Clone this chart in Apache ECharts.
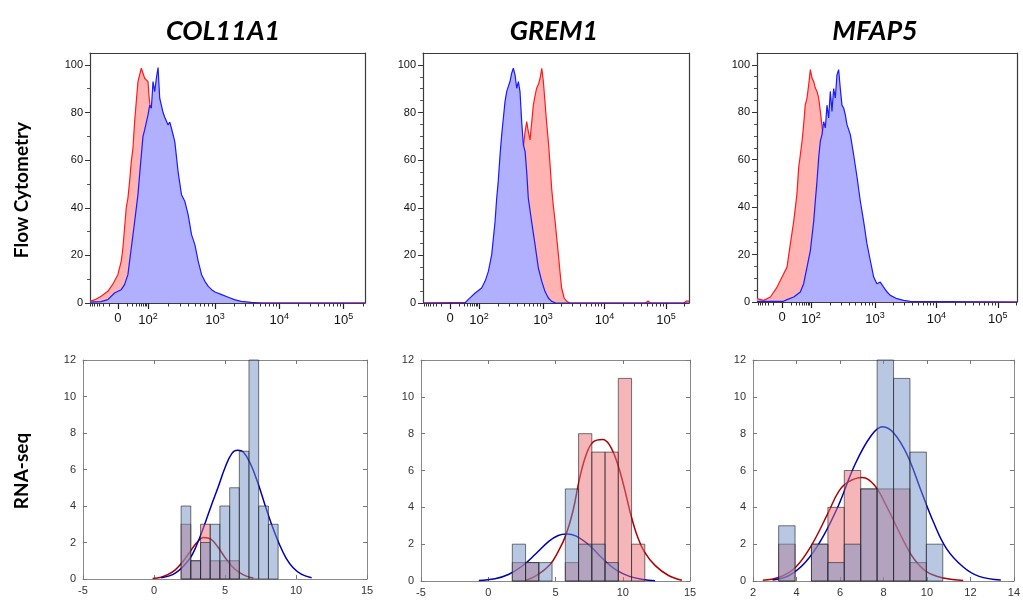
<!DOCTYPE html>
<html>
<head>
<meta charset="utf-8">
<script src="https://cdn.jsdelivr.net/npm/echarts@6/dist/echarts.min.js"></script>
<style>html,body{margin:0;padding:0;background:#fff}#c{width:1023px;height:601px}</style>
</head>
<body>
<div id="c"></div>
<script>
// ---------- Text ----------
const geneTitles = ['COL11A1', 'GREM1', 'MFAP5'];
const rowLabels = ['Flow Cytometry', 'RNA-seq'];

// ---------- Flow cytometry axis (display units) ----------
const flowTickPos = [1.55, 2, 3, 3.96, 4.92];
const flowTickLabels = ['0', '10{s|2}', '10{s|3}', '10{s|4}', '10{s|5}'];
const flowYTicks = [0, 20, 40, 60, 80, 100];

// ---------- Flow cytometry curves ----------
const col_red_x = [1.134, 1.20, 1.30, 1.40, 1.47, 1.55, 1.60, 1.625, 1.65, 1.675, 1.70, 1.725, 1.75, 1.775, 1.80, 1.825, 1.85, 1.875, 1.90, 1.925, 1.95, 1.975, 2.00, 2.015, 2.05, 2.10, 2.20, 2.30, 2.40, 2.50, 2.60, 2.70, 2.80, 2.90, 3.00, 3.10, 3.20, 3.30, 3.42, 3.45, 5.24];
const col_red_y = [0.8, 1.3, 2.8, 4.9, 7.7, 11.9, 17.5, 23, 31.5, 40, 44, 51, 59.4, 65, 76, 84.6, 93, 95.8, 98.6, 97.9, 94.4, 95, 93, 87, 78, 65, 40, 22, 12, 7, 4, 2.5, 1.5, 1, 0.8, 0.6, 0.5, 0.4, 0.3, 0, 0];
const col_blue_x = [1.134, 1.30, 1.40, 1.50, 1.60, 1.65, 1.70, 1.725, 1.75, 1.80, 1.85, 1.875, 1.90, 1.925, 1.95, 1.975, 2.00, 2.025, 2.05, 2.075, 2.10, 2.125, 2.15, 2.175, 2.20, 2.225, 2.25, 2.30, 2.325, 2.35, 2.40, 2.45, 2.50, 2.55, 2.60, 2.65, 2.70, 2.75, 2.80, 2.85, 2.90, 2.95, 3.00, 3.10, 3.20, 3.29, 3.39, 3.54, 3.70, 5.24];
const col_blue_y = [0.4, 0.6, 1.4, 4.2, 5.6, 7.7, 11.9, 17.5, 23, 34, 45.5, 54, 62, 70, 72.7, 73.4, 79, 83, 81.8, 93, 88.8, 94.4, 98.9, 86, 83, 80, 78, 74.8, 76, 73.4, 67.8, 55, 45.5, 42.7, 37, 28.7, 24.5, 17.5, 11.9, 9.1, 7.0, 5.6, 4.6, 3.5, 2.4, 1.4, 0.7, 0.3, 0, 0];

const grem_red_x = [1.125, 1.8, 1.9, 2.0, 2.1, 2.2, 2.3, 2.4, 2.5, 2.6, 2.693, 2.72, 2.745, 2.77, 2.797, 2.82, 2.849, 2.875, 2.90, 2.93, 2.955, 2.98, 3.005, 3.03, 3.055, 3.083, 3.11, 3.135, 3.16, 3.19, 3.215, 3.24, 3.265, 3.29, 3.33, 3.37, 3.42, 4.6, 4.64, 4.68, 5.2, 5.24, 5.28];
const grem_red_y = [0, 0.3, 0.4, 0.5, 1, 2, 5, 10, 22, 45, 65.7, 72, 76.2, 72, 68.5, 75, 83.2, 87, 90.2, 92, 94.5, 98.6, 93, 84.6, 76, 67.8, 58, 48, 41, 34, 27, 20.3, 13, 6.3, 2.1, 0.7, 0, 0, 0.8, 0, 0, 0.8, 0.8];
const grem_blue_x = [1.125, 1.625, 1.78, 1.83, 1.94, 2.04, 2.094, 2.146, 2.198, 2.25, 2.276, 2.30, 2.328, 2.354, 2.38, 2.406, 2.432, 2.458, 2.484, 2.51, 2.536, 2.5625, 2.589, 2.615, 2.64, 2.667, 2.693, 2.72, 2.745, 2.77, 2.823, 2.875, 2.927, 2.98, 3.03, 3.083, 3.135, 3.2, 5.28];
const grem_blue_y = [0, 0, 0, 1.4, 4.2, 6.3, 9.1, 13.3, 20.3, 34, 44, 51, 62, 70.6, 77.6, 84.6, 88.8, 91, 93, 96.5, 98.6, 95.8, 90.2, 93, 88.8, 76, 66.4, 63.6, 55, 44, 34, 24.5, 14.7, 9.1, 4.9, 2.1, 0.7, 0, 0];

const mfap_red_x = [1.156, 1.26, 1.365, 1.47, 1.52, 1.573, 1.625, 1.677, 1.73, 1.78, 1.807, 1.833, 1.86, 1.885, 1.91, 1.9375, 1.964, 1.99, 2.016, 2.042, 2.068, 2.094, 2.12, 2.146, 2.17, 2.198, 2.25, 2.30, 2.35, 2.40, 2.50, 2.60, 2.70, 2.80, 2.90, 3.0, 5.22];
const mfap_red_y = [1.4, 0.7, 2.1, 6.3, 9.1, 11.9, 14.7, 24.5, 34, 45.5, 56.6, 62, 67.8, 74.8, 83, 86, 91.6, 98, 94.4, 93, 90.2, 88.8, 86, 80.4, 74.8, 67.8, 55, 42, 30, 20, 10, 5, 2, 1, 0.5, 0, 0];
const mfap_blue_x = [1.156, 1.57, 1.625, 1.73, 1.833, 1.885, 1.9375, 1.99, 2.042, 2.068, 2.094, 2.12, 2.146, 2.172, 2.198, 2.224, 2.25, 2.276, 2.302, 2.328, 2.354, 2.38, 2.406, 2.432, 2.458, 2.484, 2.51, 2.536, 2.5625, 2.615, 2.667, 2.72, 2.77, 2.823, 2.875, 2.927, 2.98, 3.03, 3.083, 3.135, 3.19, 3.24, 3.344, 3.448, 3.55, 5.22];
const mfap_blue_y = [0.3, 0.3, 1, 2.1, 4.2, 7.7, 14.7, 21.7, 34, 42.7, 51, 60.8, 67.8, 70.6, 76, 73.4, 83, 77.6, 88.8, 80.4, 90, 86, 95.8, 98, 90, 83, 81.8, 79, 74.8, 70.6, 62, 52.6, 42.7, 34, 24.5, 17.5, 10.5, 7.7, 8.4, 6.3, 4.2, 2.8, 1.4, 0.7, 0.3, 0];

// ---------- RNA-seq histograms ----------
const col_edges = [1.91, 2.59, 3.28, 3.96, 4.64, 5.33, 6.01, 6.69, 7.37, 8.06, 8.74];
const col_red_counts = [3, 1, 3, 1, 1, 1, 0, 0, 0, 0];
const col_blue_counts = [4, 1, 2, 3, 4, 5, 7, 12, 4, 3];
const grem_edges = [1.79, 2.775, 3.76, 4.745, 5.73, 6.715, 7.70, 8.685, 9.67, 10.655, 11.64];
const grem_red_counts = [1, 1, 0, 0, 1, 8, 7, 7, 11, 2];
const grem_blue_counts = [2, 1, 1, 0, 5, 2, 2, 1, 0, 0];
const mfap_edges = [3.18, 3.935, 4.69, 5.445, 6.20, 6.955, 7.71, 8.465, 9.22, 9.975, 10.73];
const mfap_red_counts = [2, 0, 2, 4, 6, 5, 5, 5, 1, 0];
const mfap_blue_counts = [3, 0, 2, 1, 2, 5, 12, 11, 7, 2];

// fitted curves
const col_red_fit_x = [-0.1, 0.5, 1.0, 1.5, 2.0, 2.5, 3.0, 3.5, 4.0, 4.5, 5.0, 5.5, 6.0, 6.5, 7.0];
const col_red_fit_y = [0.03, 0.1, 0.25, 0.5, 0.92, 1.45, 1.98, 2.27, 2.18, 1.75, 1.18, 0.68, 0.36, 0.16, 0.05];
const col_blue_fit_x = [0.5, 1.5, 2.5, 3.0, 3.5, 4.0, 4.5, 5.0, 5.5, 5.9, 6.3, 6.8, 7.3, 7.8, 8.3, 8.8, 9.3, 9.8, 10.4, 11.1];
const col_blue_fit_y = [0.07, 0.32, 1.1, 1.85, 2.85, 3.95, 5.0, 6.1, 6.9, 7.05, 6.95, 6.3, 5.3, 4.1, 2.95, 1.95, 1.15, 0.62, 0.25, 0.07];
const grem_red_fit_x = [2.8, 3.6, 4.6, 5.2, 5.75, 6.3, 6.8, 7.3, 7.8, 8.5, 9.0, 9.6, 10.1, 10.6, 11.1, 11.6, 12.4, 13.4, 14.4];
const grem_red_fit_y = [0.04, 0.3, 0.9, 1.6, 2.45, 3.8, 5.6, 6.9, 7.55, 7.68, 7.4, 6.4, 5.1, 3.6, 2.4, 1.6, 0.85, 0.3, 0.04];
const grem_blue_fit_x = [-0.7, 0.5, 1.5, 2.5, 3.5, 4.5, 5.2, 5.83, 6.5, 7.5, 8.5, 9.5, 10.5, 11.5, 12.4];
const grem_blue_fit_y = [0.03, 0.12, 0.35, 0.8, 1.45, 2.15, 2.47, 2.55, 2.45, 1.95, 1.22, 0.6, 0.25, 0.08, 0.02];
const mfap_red_fit_x = [2.45, 3.2, 3.96, 4.69, 5.44, 5.93, 6.38, 7.02, 7.59, 8.04, 8.5, 8.95, 9.4, 10.0, 10.76, 11.67];
const mfap_red_fit_y = [0.04, 0.2, 0.75, 1.94, 3.66, 4.84, 5.38, 5.62, 5.2, 4.3, 3.2, 2.12, 1.21, 0.49, 0.16, 0.03];
const mfap_blue_fit_x = [2.9, 3.66, 4.42, 5.17, 5.93, 6.68, 7.44, 7.97, 8.5, 9.1, 9.7, 10.3, 10.9, 11.67, 12.4, 13.4];
const mfap_blue_fit_y = [0.05, 0.3, 1.03, 2.3, 4.1, 6.3, 7.9, 8.37, 8.0, 6.83, 5.0, 3.2, 1.76, 0.76, 0.25, 0.05];

// ---------- helpers ----------
const zip = (xs, ys) => xs.map((x, i) => [x, ys[i]]);
const bins = (edges, counts) => counts.map((c, i) => [edges[i], edges[i + 1], c]);

function flowMinorTicks(min, max) {
  const out = [];
  const lin = flowTickPos[1] - flowTickPos[0];
  for (let m = 2; m <= 9; m++) {
    const f = Math.log10(m);
    out.push(flowTickPos[0] + lin * f);
    out.push(flowTickPos[0] - lin * f);
    for (let k = 1; k < flowTickPos.length; k++) {
      const w = k < flowTickPos.length - 1 ? flowTickPos[k + 1] - flowTickPos[k] : flowTickPos[k] - flowTickPos[k - 1];
      out.push(flowTickPos[k] + w * f);
    }
  }
  return out.filter(v => v > min && v < max).sort((a, b) => a - b);
}

const flowRanges = [[1.134, 5.24], [1.125, 5.28], [1.156, 5.22]];
const flowYMinor = [[10, 30, 50, 70, 90], [5, 10, 15, 25, 30, 35, 45, 50, 55, 65, 70, 75, 85, 90, 95], [5, 10, 15, 25, 30, 35, 45, 50, 55, 65, 70, 75, 85, 90, 95]];
const rnaX = [{min: -5, max: 15, interval: 5}, {min: -5, max: 15, interval: 5}, {min: 2, max: 14, interval: 2}];

const grids = [
  {left: 90, top: 53, width: 275, height: 250},
  {left: 423, top: 53, width: 266, height: 250},
  {left: 757, top: 53, width: 260, height: 249},
  {left: 83, top: 360, width: 284, height: 219},
  {left: 421, top: 360, width: 269, height: 221},
  {left: 753, top: 360, width: 263, height: 221}
].map(g => Object.assign({show: false, containLabel: false}, g));

const xAxis = [], yAxis = [];
const flowLine = {show: true, onZero: false, lineStyle: {color: '#3a3a3a', width: 1.2}};
const noLine = {show: false, onZero: false};
for (let g = 0; g < 3; g++) {
  const [mn, mx] = flowRanges[g];
  xAxis.push({
    type: 'value', gridIndex: g, min: mn, max: mx, position: 'bottom',
    axisLine: flowLine,
    axisTick: {show: true, customValues: flowTickPos, length: 6, lineStyle: {color: '#222', width: 1.2}},
    axisLabel: {show: true, customValues: flowTickPos, margin: 9, color: '#111', fontSize: 13, fontFamily: 'Liberation Sans',
      formatter: v => { const i = flowTickPos.findIndex(p => Math.abs(p - v) < 1e-6); return i >= 0 ? flowTickLabels[i] : ''; },
      rich: {s: {fontSize: 9, color: '#111', fontFamily: 'Liberation Sans', padding: [0, 0, 8, 0]}}},
    splitLine: {show: false}
  });
  xAxis.push({
    type: 'value', gridIndex: g, min: mn, max: mx, position: 'bottom',
    axisLine: noLine,
    axisTick: {show: true, customValues: flowMinorTicks(mn, mx), length: 3.5, lineStyle: {color: '#333'}},
    axisLabel: {show: false}, splitLine: {show: false}
  });
  xAxis.push({
    type: 'value', gridIndex: g, min: mn, max: mx, position: 'top',
    axisLine: flowLine, axisTick: {show: false}, axisLabel: {show: false}, splitLine: {show: false}
  });
  yAxis.push({
    type: 'value', gridIndex: g, min: 0, max: 105, position: 'left',
    axisLine: flowLine,
    axisTick: {show: true, customValues: flowYTicks, length: 5, lineStyle: {color: '#333'}},
    axisLabel: {show: true, customValues: flowYTicks, margin: 7, color: '#111', fontSize: 11, fontFamily: 'Liberation Sans'},
    splitLine: {show: false}
  });
  yAxis.push({
    type: 'value', gridIndex: g, min: 0, max: 105, position: 'left',
    axisLine: noLine,
    axisTick: {show: true, customValues: flowYMinor[g], length: 3, lineStyle: {color: '#555'}},
    axisLabel: {show: false}, splitLine: {show: false}
  });
  yAxis.push({
    type: 'value', gridIndex: g, min: 0, max: 105, position: 'right',
    axisLine: flowLine, axisTick: {show: false}, axisLabel: {show: false}, splitLine: {show: false}
  });
}
const rnaLine = {show: true, onZero: false, lineStyle: {color: '#8a8a8a', width: 1}};
const rnaTick = {show: true, inside: true, length: 4, lineStyle: {color: '#777'}};
for (let r = 0; r < 3; r++) {
  const g = r + 3;
  const ax = rnaX[r];
  xAxis.push({type: 'value', gridIndex: g, min: ax.min, max: ax.max, interval: ax.interval, position: 'bottom',
    axisLine: rnaLine, axisTick: rnaTick,
    axisLabel: {show: true, margin: 6, color: '#333', fontSize: 11, fontFamily: 'Liberation Sans'}, splitLine: {show: false}});
  xAxis.push({type: 'value', gridIndex: g, min: ax.min, max: ax.max, interval: ax.interval, position: 'top',
    axisLine: rnaLine, axisTick: rnaTick, axisLabel: {show: false}, splitLine: {show: false}});
  yAxis.push({type: 'value', gridIndex: g, min: 0, max: 12, interval: 2, position: 'left',
    axisLine: rnaLine, axisTick: rnaTick,
    axisLabel: {show: true, margin: 7, color: '#333', fontSize: 11, fontFamily: 'Liberation Sans'}, splitLine: {show: false}});
  yAxis.push({type: 'value', gridIndex: g, min: 0, max: 12, interval: 2, position: 'right',
    axisLine: rnaLine, axisTick: rnaTick, axisLabel: {show: false}, splitLine: {show: false}});
}

const series = [];
const flowData = [
  [zip(col_red_x, col_red_y), zip(col_blue_x, col_blue_y)],
  [zip(grem_red_x, grem_red_y), zip(grem_blue_x, grem_blue_y)],
  [zip(mfap_red_x, mfap_red_y), zip(mfap_blue_x, mfap_blue_y)]
];
for (let g = 0; g < 3; g++) {
  series.push({type: 'line', xAxisIndex: g * 3, yAxisIndex: g * 3, data: flowData[g][0], showSymbol: false, z: 2,
    lineStyle: {color: '#ff1a1a', width: 1.2}, areaStyle: {color: '#ffb3b3', opacity: 1}, silent: true});
  series.push({type: 'line', xAxisIndex: g * 3, yAxisIndex: g * 3, data: flowData[g][1], showSymbol: false, z: 3,
    lineStyle: {color: '#1a1aff', width: 1.2}, areaStyle: {color: '#b0b0ff', opacity: 1}, silent: true});
}

function histSeries(xi, yi, data, fill, z) {
  return {
    type: 'custom', xAxisIndex: xi, yAxisIndex: yi, data: data, z: z, silent: true,
    encode: {x: [0, 1], y: 2},
    renderItem: (params, api) => {
      const h = api.value(2);
      if (!(h > 0)) return null;
      const p0 = api.coord([api.value(0), h]);
      const p1 = api.coord([api.value(1), 0]);
      return {type: 'rect', shape: {x: p0[0], y: p0[1], width: p1[0] - p0[0], height: p1[1] - p0[1]},
        style: {fill: fill, stroke: 'rgba(30,30,30,0.6)', lineWidth: 1}};
    }
  };
}
const rnaHist = [
  [bins(col_edges, col_red_counts), bins(col_edges, col_blue_counts)],
  [bins(grem_edges, grem_red_counts), bins(grem_edges, grem_blue_counts)],
  [bins(mfap_edges, mfap_red_counts), bins(mfap_edges, mfap_blue_counts)]
];
const rnaFits = [
  [zip(col_red_fit_x, col_red_fit_y), zip(col_blue_fit_x, col_blue_fit_y)],
  [zip(grem_red_fit_x, grem_red_fit_y), zip(grem_blue_fit_x, grem_blue_fit_y)],
  [zip(mfap_red_fit_x, mfap_red_fit_y), zip(mfap_blue_fit_x, mfap_blue_fit_y)]
];
for (let r = 0; r < 3; r++) {
  const xi = 9 + r * 2, yi = 9 + r * 2;
  series.push({type: 'line', xAxisIndex: xi, yAxisIndex: yi, data: rnaFits[r][0], smooth: 0.4, showSymbol: false, z: 1,
    lineStyle: {color: '#b00000', width: 1.5}, silent: true});
  series.push({type: 'line', xAxisIndex: xi, yAxisIndex: yi, data: rnaFits[r][1], smooth: 0.4, showSymbol: false, z: 1,
    lineStyle: {color: '#0000b0', width: 1.5}, silent: true});
  series.push(histSeries(xi, yi, rnaHist[r][0], 'rgba(233,110,115,0.5)', 2));
  series.push(histSeries(xi, yi, rnaHist[r][1], 'rgba(113,143,197,0.5)', 3));
}

const titleX = [223, 554, 875];
const graphic = geneTitles.map((t, i) => ({
  type: 'text', x: titleX[i], y: 31,
  style: {text: t, fill: '#000', font: 'italic bold 27px Lato', textAlign: 'center', textVerticalAlign: 'middle'}
}));
graphic.push({type: 'text', x: 22, y: 190, rotation: Math.PI / 2,
  style: {text: rowLabels[0], fill: '#000', font: 'bold 19px Lato', textAlign: 'center', textVerticalAlign: 'middle'}});
graphic.push({type: 'text', x: 22, y: 471, rotation: Math.PI / 2,
  style: {text: rowLabels[1], fill: '#000', font: 'bold 19px Lato', textAlign: 'center', textVerticalAlign: 'middle'}});

const chart = echarts.init(document.getElementById('c'));
chart.setOption({animation: false, backgroundColor: '#fff', grid: grids, xAxis, yAxis, series, graphic});
</script>
</body>
</html>
